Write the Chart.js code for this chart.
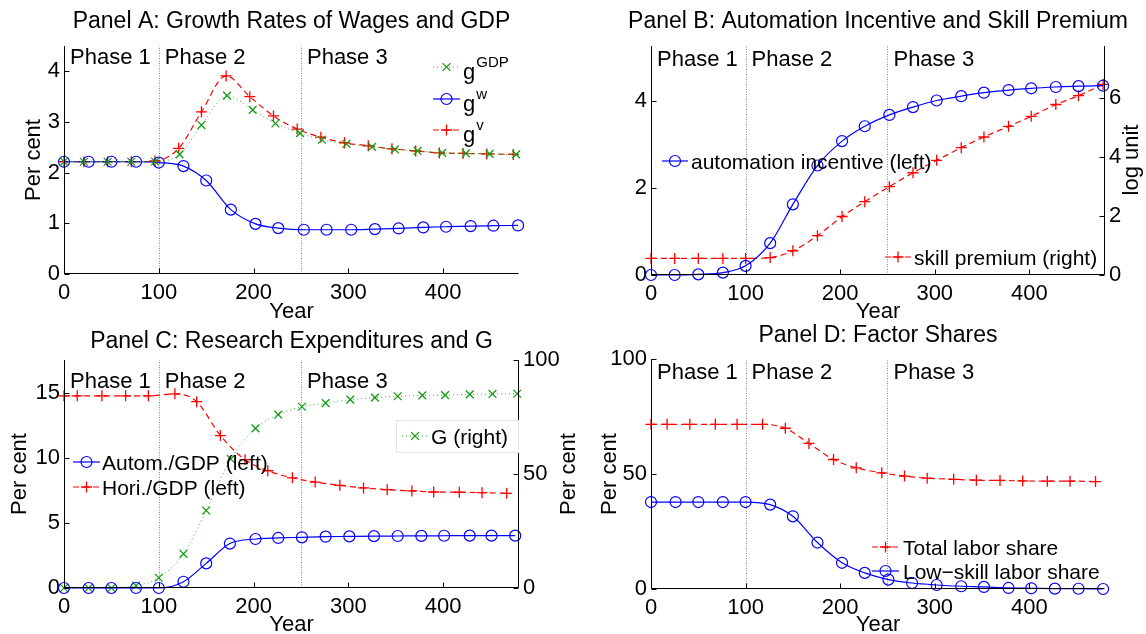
<!DOCTYPE html>
<html><head><meta charset="utf-8">
<script src="https://cdn.jsdelivr.net/npm/chart.js@4.4.1/dist/chart.umd.min.js"></script>
<style>
html,body{margin:0;padding:0;background:#fff;}
#wrap{position:relative;width:1146px;height:634px;overflow:hidden;background:#fff;}
canvas{position:absolute;left:0;top:0;}
</style></head><body>
<div id="wrap">
<canvas id="cA" width="1146" height="634"></canvas>
<canvas id="cB" width="1146" height="634"></canvas>
<canvas id="cC" width="1146" height="634"></canvas>
<canvas id="cD" width="1146" height="634"></canvas>
</div>
<script>
// ---------- shared ----------
const xTickVals = [0, 100, 200, 300, 400];
const phaseNames = ['Phase 1', 'Phase 2', 'Phase 3'];
const phaseStarts = [0, 100, 250];
const phaseBounds = [100, 250];

// ---------- Panel A ----------
const aTitle = 'Panel A: Growth Rates of Wages and GDP';
const aYTicks = [0, 1, 2, 3, 4];
const aGdpYears = [0, 21, 46, 71, 96, 122, 145, 172, 199, 223, 249, 272, 298, 325, 349, 373, 399, 424, 449, 477];
const aGdpVals  = [2.215, 2.215, 2.215, 2.215, 2.22, 2.36, 2.94, 3.52, 3.24, 2.97, 2.78, 2.65, 2.57, 2.51, 2.46, 2.43, 2.39, 2.38, 2.37, 2.36];
const aWYears   = [0, 26, 50, 76, 100, 126, 150, 176, 202, 226, 253, 277, 303, 328, 353, 379, 403, 429, 453, 479];
const aWVals    = [2.215, 2.215, 2.215, 2.215, 2.20, 2.13, 1.845, 1.27, 0.99, 0.906, 0.873, 0.873, 0.873, 0.886, 0.899, 0.919, 0.933, 0.946, 0.953, 0.959];
const aVYears   = [0, 21, 46, 71, 96, 121, 145, 171, 196, 221, 246, 271, 296, 321, 346, 371, 396, 421, 446, 474];
const aVVals    = [2.215, 2.215, 2.215, 2.215, 2.23, 2.48, 3.20, 3.91, 3.50, 3.12, 2.86, 2.70, 2.59, 2.53, 2.47, 2.43, 2.39, 2.38, 2.37, 2.36];
const aLegendMain = ['g', 'g', 'g'];
const aLegendSup  = ['GDP', 'w', 'v'];

// ---------- Panel B ----------
const bTitle = 'Panel B: Automation Incentive and Skill Premium';
const bLeftTicks = [0, 2, 4];
const bRightTicks = [0, 2, 4, 6];
const bYears    = [0, 25, 50, 76, 100, 126, 150, 176, 202, 226, 252, 277, 302, 328, 352, 378, 402, 428, 452, 478];
const bIncVals  = [0, 0, 0.015, 0.054, 0.21, 0.73, 1.62, 2.51, 3.07, 3.41, 3.67, 3.85, 4.0, 4.10, 4.18, 4.24, 4.28, 4.31, 4.33, 4.34];
const bPremVals = [0.56, 0.56, 0.56, 0.56, 0.56, 0.59, 0.82, 1.33, 1.98, 2.48, 2.99, 3.46, 3.88, 4.31, 4.67, 5.03, 5.37, 5.77, 6.07, 6.45];
const bLabels = ['automation incentive (left)', 'skill premium (right)'];

// ---------- Panel C ----------
const cTitle = 'Panel C: Research Expenditures and G';
const cLeftTicks = [0, 5, 10, 15];
const cRightTicks = [0, 50, 100];
const cAutYears = [0, 26, 50, 76, 100, 126, 150, 175, 202, 226, 251, 276, 301, 327, 352, 377, 401, 428, 451, 476];
const cAutVals  = [0, 0, 0, 0, 0, 0.48, 1.89, 3.41, 3.76, 3.84, 3.89, 3.94, 3.96, 3.98, 3.99, 4.0, 4.01, 4.02, 4.02, 4.02];
const cHorYears = [0, 14, 40, 65, 89, 117, 140, 165, 191, 215, 241, 265, 291, 316, 341, 367, 390, 417, 441, 467];
const cHorVals  = [14.75, 14.75, 14.75, 14.75, 14.75, 14.9, 14.3, 11.7, 9.85, 9.0, 8.46, 8.13, 7.88, 7.68, 7.55, 7.45, 7.37, 7.35, 7.32, 7.27];
const cGYears   = [0, 26, 50, 76, 100, 126, 150, 176, 202, 226, 251, 276, 302, 328, 352, 378, 402, 428, 452, 478];
const cGVals    = [0, 0, 0, 1.0, 4.5, 15, 34, 56.6, 70, 76, 79.5, 81.1, 82.6, 83.5, 84.1, 84.5, 84.6, 84.9, 85.1, 85.2];
const cLabels = ['Autom./GDP (left)', 'Hori./GDP (left)', 'G (right)'];

// ---------- Panel D ----------
const dTitle = 'Panel D: Factor Shares';
const dYTicks = [0, 50, 100];
const dTotYears = [0, 17, 41, 68, 91, 118, 142, 167, 193, 217, 244, 268, 292, 320, 344, 369, 393, 419, 443, 470];
const dTotVals  = [71.6, 71.6, 71.6, 71.6, 71.6, 71.6, 69.9, 63.3, 56.3, 52.7, 50.5, 49.1, 48.2, 47.7, 47.3, 47.2, 47.0, 46.9, 46.9, 46.7];
const dLowYears = [0, 26, 50, 76, 100, 126, 150, 176, 202, 226, 251, 276, 302, 328, 352, 378, 402, 427, 452, 478];
const dLowVals  = [37.8, 37.8, 37.8, 37.8, 37.8, 36.7, 31.6, 20.2, 11.4, 7.0, 4.1, 2.6, 1.75, 1.2, 0.9, 0.45, 0.3, 0.15, 0.1, 0];
const dLabels = ['Total labor share', 'Low\u2212skill labor share'];

// ---------- helpers ----------
const FONT = '"Liberation Sans", Arial, Helvetica, sans-serif';
const BLUE = '#0000ff', RED = '#ff0000', GREEN = '#139c13', GREENLINE = '#2fb52f';
function pts(xs, ys) { return xs.map((x, i) => ({ x: x, y: ys[i] })); }
function blueDs(label, xs, ys, axis) {
  return { label, data: pts(xs, ys), yAxisID: axis || 'y', borderColor: BLUE, borderWidth: 1.2,
    pointStyle: 'circle', pointRadius: 5.5, pointBorderWidth: 1.2, pointBorderColor: BLUE,
    pointBackgroundColor: 'rgba(0,0,0,0)', cubicInterpolationMode: 'monotone', clip: false, fill: false };
}
function redDs(label, xs, ys, axis) {
  return { label, data: pts(xs, ys), yAxisID: axis || 'y', borderColor: RED, borderWidth: 1.2, borderDash: [6, 4],
    pointStyle: 'cross', pointRadius: 5.5, pointBorderWidth: 1.3, pointBorderColor: RED,
    pointBackgroundColor: RED, cubicInterpolationMode: 'monotone', clip: false, fill: false };
}
function greenDs(label, xs, ys, axis) {
  return { label, data: pts(xs, ys), yAxisID: axis || 'y', borderColor: GREENLINE, borderWidth: 1, borderDash: [1, 3],
    pointStyle: 'crossRot', pointRadius: 5.5, pointBorderWidth: 1.3, pointBorderColor: GREEN,
    pointBackgroundColor: GREEN, cubicInterpolationMode: 'monotone', clip: false, fill: false };
}
function xScale(h) {
  return { type: 'linear', position: 'bottom', min: 0, max: 480,
    afterBuildTicks: s => { s.ticks = xTickVals.map(v => ({ value: v })); },
    afterFit: s => { s.height = h; },
    grid: { display: false, drawTicks: false }, border: { display: false },
    ticks: { font: { family: FONT, size: 22 }, color: '#000', padding: 6, maxRotation: 0, minRotation: 0, autoSkip: false } };
}
function yScale(pos, min, max, tickVals, w) {
  return { type: 'linear', position: pos, min: min, max: max,
    afterBuildTicks: s => { s.ticks = tickVals.map(v => ({ value: v })); },
    afterFit: s => { s.width = w; },
    grid: { display: false, drawTicks: false }, border: { display: false },
    ticks: { font: { family: FONT, size: 22 }, color: '#000', padding: 4, autoSkip: false } };
}
function txt(ctx, s, x, y, size, align, rot) {
  ctx.save(); ctx.font = size + 'px ' + FONT; ctx.fillStyle = '#000';
  ctx.textAlign = align || 'left'; ctx.textBaseline = 'alphabetic';
  ctx.translate(x, y); if (rot) ctx.rotate(rot); ctx.fillText(s, 0, 0); ctx.restore();
}
function marker(ctx, style, x, y, r, color, lw) {
  ctx.save(); ctx.strokeStyle = color; ctx.lineWidth = lw; ctx.setLineDash([]); ctx.beginPath();
  if (style === 'circle') { ctx.arc(x, y, r, 0, Math.PI * 2); }
  else if (style === 'cross') { ctx.moveTo(x - r, y); ctx.lineTo(x + r, y); ctx.moveTo(x, y - r); ctx.lineTo(x, y + r); }
  else if (style === 'crossRot') { const d = r * Math.SQRT1_2; ctx.moveTo(x - d, y - d); ctx.lineTo(x + d, y + d); ctx.moveTo(x + d, y - d); ctx.lineTo(x - d, y + d); }
  ctx.stroke(); ctx.restore();
}

const decor = {
  id: 'decor',
  beforeDatasetsDraw(chart, args, o) {
    const { ctx, chartArea: a, scales } = chart;
    ctx.save(); ctx.strokeStyle = '#8a8a8a'; ctx.lineWidth = 1; ctx.setLineDash([1, 1.5]);
    phaseBounds.forEach(v => {
      const px = Math.round(scales.x.getPixelForValue(v)) + 0.5;
      ctx.beginPath(); ctx.moveTo(px, a.bottom); ctx.lineTo(px, a.top); ctx.stroke();
    });
    ctx.restore();
  },
  afterDatasetsDraw(chart, args, o) {
    const { ctx, chartArea: a, scales } = chart;
    const L = Math.round(a.left) + 0.5, R = Math.round(a.right) - 0.5, B = Math.round(a.bottom) - 0.5, T = Math.round(a.top);
    ctx.save(); ctx.strokeStyle = '#000'; ctx.lineWidth = 1; ctx.setLineDash([]);
    ctx.beginPath();
    ctx.moveTo(L, T); ctx.lineTo(L, B); ctx.lineTo(R, B);
    if (o.right) { ctx.moveTo(R, B); ctx.lineTo(R, T); }
    const tl = 5;
    xTickVals.forEach(v => { const p = Math.round(scales.x.getPixelForValue(v)) + 0.5; ctx.moveTo(p, B); ctx.lineTo(p, B - tl); });
    scales.y.ticks.forEach(t => { const p = Math.round(scales.y.getPixelForValue(t.value)) + 0.5; ctx.moveTo(L, p); ctx.lineTo(L + tl, p); });
    if (o.right) scales.y2.ticks.forEach(t => { const p = Math.round(scales.y2.getPixelForValue(t.value)) + 0.5; ctx.moveTo(R, p); ctx.lineTo(R - tl, p); });
    ctx.stroke(); ctx.restore();
    phaseNames.forEach((s, i) => txt(ctx, s, scales.x.getPixelForValue(phaseStarts[i]) + 6, o.phaseY, 22, 'left'));
    (o.boxes || []).forEach(b => {
      ctx.save(); ctx.fillStyle = '#fff'; ctx.fillRect(b.x, b.y, b.w, b.h);
      ctx.strokeStyle = '#e4e4e4'; ctx.lineWidth = 1; ctx.strokeRect(b.x + 0.5, b.y + 0.5, b.w, b.h); ctx.restore();
    });
    (o.legend || []).forEach(it => {
      const ds = chart.data.datasets[it.ds];
      ctx.save(); ctx.strokeStyle = ds.borderColor; ctx.lineWidth = ds.borderWidth; ctx.setLineDash(ds.borderDash || []);
      ctx.beginPath(); ctx.moveTo(it.x0, it.y); ctx.lineTo(it.x1, it.y); ctx.stroke(); ctx.restore();
      marker(ctx, ds.pointStyle, (it.x0 + it.x1) / 2, it.y, ds.pointRadius, ds.pointBorderColor, ds.pointBorderWidth);
      if (it.sup !== undefined) {
        txt(ctx, it.text, it.tx, it.y + 12, 22, 'left');
        ctx.save(); ctx.font = '22px ' + FONT; const w = ctx.measureText(it.text).width; ctx.restore();
        txt(ctx, it.sup, it.tx + w + 1, it.y, 15, 'left');
      } else {
        txt(ctx, it.text, it.tx, it.y + 7.5, 21, 'left');
      }
    });
    txt(ctx, o.title, (a.left + a.right) / 2, o.titleY, 23, 'center');
    txt(ctx, 'Year', (a.left + a.right) / 2, o.yearY, 22, 'center');
    (o.yTitles || []).forEach(t => txt(ctx, t.text, t.x, t.y, 22, 'center', -Math.PI / 2));
  }
};

function make(id, datasets, scales, padding, plug) {
  return new Chart(document.getElementById(id), {
    type: 'line',
    data: { datasets },
    options: {
      responsive: false, animation: false, events: [],
      layout: { padding },
      plugins: { legend: { display: false }, tooltip: { enabled: false }, title: { display: false }, decor: plug },
      scales
    },
    plugins: [decor]
  });
}

make('cA',
  [greenDs('g^GDP', aGdpYears, aGdpVals), blueDs('g^w', aWYears, aWVals), redDs('g^v', aVYears, aVVals)],
  { x: xScale(360), y: yScale('left', 0, 4.5, aYTicks, 64) },
  { left: 0, right: 627, top: 46, bottom: 0 },
  { title: aTitle, titleY: 28, yearY: 318, phaseY: 64,
    yTitles: [{ text: 'Per cent', x: 40, y: 160 }],
    legend: [
      { ds: 0, x0: 433, x1: 460, y: 67, tx: 463, text: aLegendMain[0], sup: aLegendSup[0] },
      { ds: 1, x0: 433, x1: 460, y: 99, tx: 463, text: aLegendMain[1], sup: aLegendSup[1] },
      { ds: 2, x0: 433, x1: 460, y: 130, tx: 463, text: aLegendMain[2], sup: aLegendSup[2] }
    ] });

make('cB',
  [blueDs(bLabels[0], bYears, bIncVals, 'y'), redDs(bLabels[1], bYears, bPremVals, 'y2')],
  { x: xScale(359), y: yScale('left', 0, 5.25, bLeftTicks, 78), y2: yScale('right', 0, 7.75, bRightTicks, 41) },
  { left: 573, right: 0, top: 46, bottom: 0 },
  { title: bTitle, titleY: 28, yearY: 318, phaseY: 66, right: true,
    yTitles: [{ text: 'log unit', x: 1138, y: 160 }],
    legend: [
      { ds: 0, x0: 662, x1: 688, y: 161, tx: 691, text: bLabels[0] },
      { ds: 1, x0: 885, x1: 911, y: 257, tx: 914, text: bLabels[1] }
    ] });

make('cC',
  [blueDs(cLabels[0], cAutYears, cAutVals, 'y'), redDs(cLabels[1], cHorYears, cHorVals, 'y'), greenDs(cLabels[2], cGYears, cGVals, 'y2')],
  { x: xScale(46), y: yScale('left', 0, 17.5, cLeftTicks, 64), y2: yScale('right', 0, 100, cRightTicks, 54) },
  { left: 0, right: 573, top: 360, bottom: 0 },
  { title: cTitle, titleY: 348, yearY: 631, phaseY: 388, right: true,
    yTitles: [{ text: 'Per cent', x: 26, y: 474 }, { text: 'Per cent', x: 575, y: 474 }],
    boxes: [{ x: 396, y: 420, w: 122, h: 32 }],
    legend: [
      { ds: 0, x0: 73, x1: 100, y: 462, tx: 102, text: cLabels[0] },
      { ds: 1, x0: 73, x1: 100, y: 487, tx: 102, text: cLabels[1] },
      { ds: 2, x0: 402, x1: 428, y: 436, tx: 431, text: cLabels[2] }
    ] });

make('cD',
  [redDs(dLabels[0], dTotYears, dTotVals, 'y'), blueDs(dLabels[1], dLowYears, dLowVals, 'y')],
  { x: xScale(45), y: yScale('left', 0, 100, dYTicks, 78) },
  { left: 573, right: 41, top: 359, bottom: 0 },
  { title: dTitle, titleY: 342, yearY: 631, phaseY: 379,
    yTitles: [{ text: 'Per cent', x: 616, y: 474 }],
    legend: [
      { ds: 0, x0: 872, x1: 899, y: 547, tx: 903, text: dLabels[0] },
      { ds: 1, x0: 872, x1: 899, y: 571, tx: 903, text: dLabels[1] }
    ] });
</script>
</body></html>
